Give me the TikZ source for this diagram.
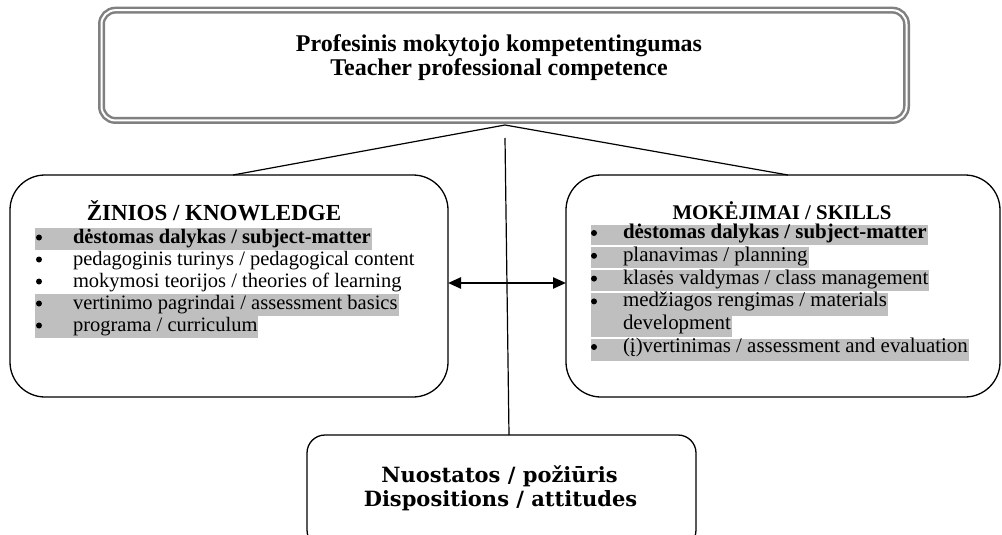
\documentclass[tikz,border=0pt]{standalone}
\usepackage{fontspec}
\setmainfont{Liberation Serif}
\newfontfamily\cambfont{DejaVu Serif}
\usetikzlibrary{arrows.meta}
\pgfdeclarelayer{bg}
\pgfsetlayers{bg,main}
\definecolor{hlgray}{gray}{0.75}
\definecolor{framegray}{gray}{0.5}
\begin{document}
\begin{tikzpicture}[x=1pt,y=-1pt,
  box/.style={draw=black,line width=1.3pt,inner sep=0pt,outer sep=0pt},
  topbox/.style={draw=framegray,double=white,double distance=2pt,line width=2.5pt,
    rounded corners=14pt,inner sep=0pt,outer sep=0pt,minimum width=805pt,minimum height=110.3pt},
  conn/.style={line width=1.2pt},
  toptxt/.style={font=\bfseries\fontsize{24}{24.4}\selectfont,inner sep=0pt,anchor=base},
  ttl/.style={font=\bfseries\fontsize{#1}{24}\selectfont,inner sep=0pt,anchor=base},
  litm/.style={font=\fontsize{20.5}{23}\selectfont,inner sep=0pt,outer sep=0pt,anchor=base west},
  ritm/.style={font=\fontsize{20.9}{23}\selectfont,inner sep=0pt,outer sep=0pt,anchor=base west},
  bottxt/.style={font=\cambfont\bfseries\fontsize{21}{24}\selectfont,inner sep=0pt,anchor=base},
  hl/.style={fill=hlgray},
  bul/.style={fill=black}
]
\useasboundingbox (0,0) rectangle (1002,535);

% boxes
\node[topbox] (top) at (504,65.3) {};
\node[box,rounded corners=35pt,minimum width=438pt,minimum height=222pt] (left) at (229,286) {};
\node[box,rounded corners=35pt,minimum width=434pt,minimum height=222pt] (right) at (783,286) {};
\node[box,rounded corners=18pt,minimum width=389pt,minimum height=113pt] (bottom) at (501.5,491.5) {};

% top text
\node[toptxt] (t1) at (499,51.5) {Profesinis mokytojo kompetentingumas};
\node[toptxt] (t2) at (499,75.9) {Teacher professional competence};

% connectors
\coordinate (apex) at (505,125);
\coordinate (vtop) at (505,138);
\draw[conn] (apex) -- (left.north -| 233,0);
\draw[conn] (apex) -- (right.north -| 788,0);
\draw[conn] (vtop) -- (bottom.north -| 509,0);
\draw[line width=2.4pt,{Triangle[length=13pt,width=11pt]}-{Triangle[length=13pt,width=11pt]}]
  (left.east |- 0,283) -- (right.west |- 0,283);

% left box
\node[ttl=23] (lt) at (214,220.5) {ŽINIOS / KNOWLEDGE};
\node[litm] (l1) at (73,243) {\bfseries dėstomas dalykas / subject-matter};
\node[litm] (l2) at (73,265) {pedagoginis turinys / pedagogical content};
\node[litm] (l3) at (73,287) {mokymosi teorijos / theories of learning};
\node[litm] (l4) at (73,309) {vertinimo pagrindai / assessment basics};
\node[litm] (l5) at (73,331) {programa / curriculum};
\foreach \b in {243,265,287,309,331}{\fill[bul] (39,\b-5.5) circle (3);}
\begin{pgfonlayer}{bg}
\fill[hl] (35,243-15) rectangle ([xshift=1pt]l1.east |- 0,243+6.5);
\fill[hl] (35,309-15) rectangle ([xshift=1pt]l4.east |- 0,309+7);
\fill[hl] (35,331-15) rectangle ([xshift=1pt]l5.east |- 0,331+7);
\end{pgfonlayer}

% right box
\node[ttl=20.85] (rt) at (782,219.5) {MOKĖJIMAI / SKILLS};
\node[ritm] (r1) at (623,238.5) {\bfseries dėstomas dalykas / subject-matter};
\node[ritm] (r2) at (623,261.3) {planavimas / planning};
\node[ritm] (r3) at (623,284.1) {klasės valdymas / class management};
\node[ritm] (r4) at (623,306.9) {medžiagos rengimas / materials};
\node[ritm] (r4b) at (623,329.7) {development};
\node[ritm] (r5) at (623,352.5) {(į)vertinimas / assessment and evaluation};
\foreach \b in {238.5,261.3,284.1,306.9,352.5}{\fill[bul] (594,\b-5.5) circle (3);}
\begin{pgfonlayer}{bg}
\fill[hl] (591,238.5-14) rectangle ([xshift=1pt]r1.east |- 0,238.5+6.5);
\fill[hl] (591,261.3-14) rectangle ([xshift=1pt]r2.east |- 0,261.3+7);
\fill[hl] (591,284.1-14) rectangle ([xshift=1pt]r3.east |- 0,284.1+7);
\fill[hl] (591,306.9-14) rectangle ([xshift=1pt]r4.east |- 0,306.9+8.8);
\fill[hl] (591,329.7-14) rectangle ([xshift=1pt]r4b.east |- 0,329.7+7);
\fill[hl] (591,352.5-14) rectangle ([xshift=1pt]r5.east |- 0,352.5+8);
\end{pgfonlayer}

% bottom text
\node[bottxt] (b1) at (499.5,482.5) {Nuostatos / požiūris};
\node[bottxt] (b2) at (500.5,506.7) {Dispositions / attitudes};
\end{tikzpicture}
\end{document}
